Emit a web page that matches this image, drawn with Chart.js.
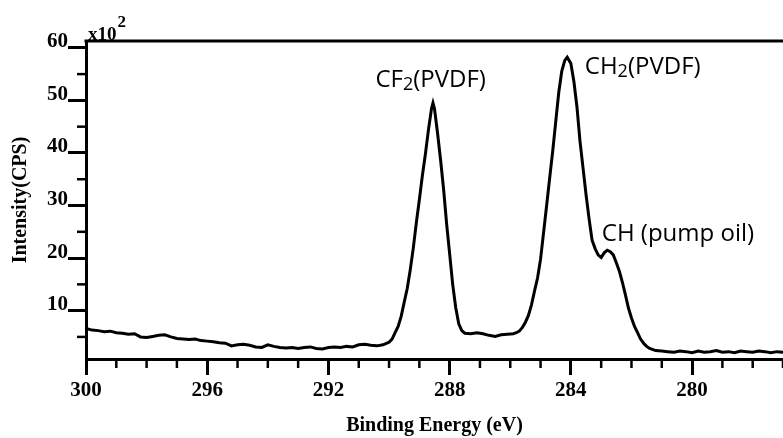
<!DOCTYPE html>
<html>
<head>
<meta charset="utf-8">
<script src="https://cdn.jsdelivr.net/npm/chart.js@4/dist/chart.umd.min.js"></script>
<style>
  body { margin: 0; background: #fff; }
  canvas { display: block; }
</style>
</head>
<body>
<canvas id="xps" width="783" height="438"></canvas>
<script>
// binding energy (eV) and intensity (x10^2 CPS)
var energy = [
  300.0, 299.8, 299.6, 299.4, 299.2, 299.0, 298.8, 298.6, 298.4, 298.2,
  298.0, 297.8, 297.6, 297.4, 297.2, 297.0, 296.8, 296.6, 296.4, 296.2,
  296.0, 295.8, 295.6, 295.4, 295.2, 295.0, 294.8, 294.6, 294.4, 294.2,
  294.0, 293.8, 293.6, 293.4, 293.2, 293.0, 292.8, 292.6, 292.4, 292.2,
  292.0, 291.8, 291.6, 291.4, 291.2, 291.0, 290.8, 290.6, 290.4, 290.2,
  290.0, 289.9, 289.8, 289.7, 289.6, 289.5, 289.4, 289.3, 289.2, 289.1,
  289.0, 288.9, 288.8, 288.7, 288.6, 288.55, 288.5, 288.4, 288.3, 288.2,
  288.1, 288.0, 287.9, 287.8, 287.7, 287.6, 287.5,
  287.3, 287.1, 286.9, 286.7, 286.5, 286.3, 286.1, 285.9, 285.8, 285.7,
  285.6, 285.5, 285.4, 285.3, 285.2, 285.1, 285.0, 284.9, 284.8, 284.7,
  284.6, 284.5, 284.4, 284.3, 284.2, 284.12, 284.0, 283.9, 283.8, 283.7,
  283.6, 283.5, 283.4, 283.3, 283.2, 283.1, 283.0, 282.9, 282.8, 282.7,
  282.6, 282.5, 282.4, 282.3, 282.2, 282.1, 282.0, 281.9, 281.8, 281.7,
  281.6, 281.5, 281.4,
  281.2, 281.0, 280.8, 280.6, 280.4, 280.2, 280.0, 279.8, 279.6, 279.4,
  279.2, 279.0, 278.8, 278.6, 278.4, 278.2, 278.0, 277.8, 277.6, 277.4,
  277.2, 277.0
];
var intensity = [
  6.6, 6.3, 6.2, 6.0, 6.1, 5.8, 5.7, 5.5, 5.6, 5.0,
  4.9, 5.1, 5.3, 5.4, 5.0, 4.7, 4.6, 4.5, 4.6, 4.3,
  4.2, 4.1, 3.9, 3.8, 3.3, 3.5, 3.6, 3.4, 3.1, 3.0,
  3.5, 3.2, 3.0, 2.9, 3.0, 2.8, 3.0, 3.1, 2.8, 2.7,
  3.0, 3.1, 3.0, 3.2, 3.1, 3.5, 3.6, 3.4, 3.3, 3.5,
  4.0, 4.6, 5.8, 7.0, 8.9, 11.6, 14.2, 17.8, 21.9, 26.7,
  31.1, 35.7, 39.8, 44.4, 48.4, 49.5, 48.4, 43.8, 38.7, 33.1,
  26.5, 20.8, 15.0, 10.6, 7.5, 6.2, 5.7,
  5.6, 5.8, 5.6, 5.3, 5.1, 5.4, 5.5, 5.6, 5.8, 6.1,
  6.8, 7.8, 9.1, 11.1, 13.7, 16.2, 19.8, 24.9, 30.0, 35.2,
  40.3, 45.9, 51.5, 55.6, 57.6, 58.2, 57.0, 53.6, 48.8, 42.3,
  37.2, 32.1, 27.5, 23.4, 21.8, 20.6, 20.1, 21.0, 21.5, 21.2,
  20.6, 19.1, 17.5, 15.4, 13.0, 10.5, 8.6, 7.0, 5.8, 4.6,
  3.8, 3.2, 2.8,
  2.4, 2.3, 2.2, 2.1, 2.3, 2.2, 2.0, 2.3, 2.1, 2.2,
  2.4, 2.1, 2.2, 2.0, 2.3, 2.2, 2.1, 2.3, 2.2, 2.0,
  2.2, 2.1
];

var xTicks = [300, 296, 292, 288, 284, 280];
var xMinor = [299, 298, 297, 295, 294, 293, 291, 290, 289, 287, 286, 285, 283, 282, 281, 279, 278, 277];
var yTicks = [10, 20, 30, 40, 50, 60];
var yMinor = [5, 15, 25, 35, 45, 55];

// peak labels: main text, subscript, rest
var noteMain = ['CF', 'CH', 'CH (pump oil)'];
var noteSub = ['2', '2', ''];
var noteRest = ['(PVDF)', '(PVDF)', ''];

var serif = "'Liberation Serif', 'Times New Roman', serif";
var sans = "'Open Sans', 'Noto Sans', sans-serif";

var extras = {
    id: 'extras',
    afterDraw: function (chart) {
        var ctx = chart.ctx, xs = chart.scales.x, ys = chart.scales.y, a = chart.chartArea;
        ctx.save();
        ctx.strokeStyle = '#000';
        ctx.lineWidth = 3;
        ctx.beginPath();
        ctx.moveTo(a.left - 1.5, a.top);
        ctx.lineTo(a.right, a.top);
        ctx.stroke();

        ctx.lineWidth = 2.5;
        xMinor.forEach(function (v) {
            var px = xs.getPixelForValue(v);
            ctx.beginPath();
            ctx.moveTo(px, a.bottom);
            ctx.lineTo(px, a.bottom + 9);
            ctx.stroke();
        });
        yMinor.forEach(function (v) {
            var py = ys.getPixelForValue(v);
            ctx.beginPath();
            ctx.moveTo(a.left, py);
            ctx.lineTo(a.left - 9, py);
            ctx.stroke();
        });

        ctx.fillStyle = '#000';
        ctx.textBaseline = 'alphabetic';
        ctx.textAlign = 'left';
        ctx.font = 'bold 19px ' + serif;
        ctx.fillText('x10', a.left + 2, a.top - 1);
        var w = ctx.measureText('x10').width;
        ctx.font = 'bold 17px ' + serif;
        ctx.fillText('2', a.left + 3 + w, a.top - 14);

        // anchors in data units (energy, intensity) for each label
        var anchors = [[290.45, 52.5], [283.54, 55.1], [282.98, 23.3]];
        for (var i = 0; i < noteMain.length; i++) {
            var x = xs.getPixelForValue(anchors[i][0]);
            var y = ys.getPixelForValue(anchors[i][1]);
            ctx.font = '24px ' + sans;
            ctx.fillText(noteMain[i], x, y);
            var off = ctx.measureText(noteMain[i]).width;
            if (noteSub[i]) {
                ctx.font = '18px ' + sans;
                ctx.fillText(noteSub[i], x + off, y + 3);
                off += ctx.measureText(noteSub[i]).width;
            }
            ctx.font = '24px ' + sans;
            ctx.fillText(noteRest[i], x + off, y);
        }
        ctx.restore();
    }
};

var points = energy.map(function (e, i) { return { x: e, y: intensity[i] }; });

new Chart(document.getElementById('xps'), {
    type: 'scatter',
    data: {
        datasets: [{
            data: points,
            showLine: true,
            borderColor: '#000',
            borderWidth: 3,
            pointRadius: 0,
            tension: 0
        }]
    },
    options: {
        responsive: false,
        animation: false,
        layout: { padding: { top: 41, right: 0, left: 0, bottom: 0 } },
        plugins: { legend: { display: false }, tooltip: { enabled: false } },
        scales: {
            x: {
                type: 'linear',
                reverse: true,
                min: 277,
                max: 300,
                afterBuildTicks: function (s) { s.ticks = xTicks.map(function (v) { return { value: v }; }); },
                afterFit: function (s) { s.height = 79; },
                grid: { drawOnChartArea: false, tickLength: 16, tickWidth: 3, tickColor: '#000', color: '#000' },
                border: { color: '#000', width: 3 },
                ticks: { color: '#000', padding: 3, maxRotation: 0, autoSkip: false,
                    font: { family: serif, size: 21, weight: 'bold' } },
                title: { display: true, text: 'Binding Energy (eV)', color: '#000',
                    font: { family: serif, size: 20, weight: 'bold' }, padding: { top: 0, bottom: 0 } }
            },
            y: {
                min: 0.8,
                max: 61.3,
                afterBuildTicks: function (s) { s.ticks = yTicks.map(function (v) { return { value: v }; }); },
                afterFit: function (s) { s.width = 86; },
                grid: { drawOnChartArea: false, tickLength: 18, tickWidth: 3, tickColor: '#000', color: '#000' },
                border: { color: '#000', width: 3 },
                ticks: { color: '#000', padding: 0, labelOffset: -6,
                    font: { family: serif, size: 21, weight: 'bold' } },
                title: { display: true, text: 'Intensity(CPS)', color: '#000',
                    font: { family: serif, size: 20, weight: 'bold' }, padding: { top: 9, bottom: 0 } }
            }
        }
    },
    plugins: [extras]
});
</script>
</body>
</html>
